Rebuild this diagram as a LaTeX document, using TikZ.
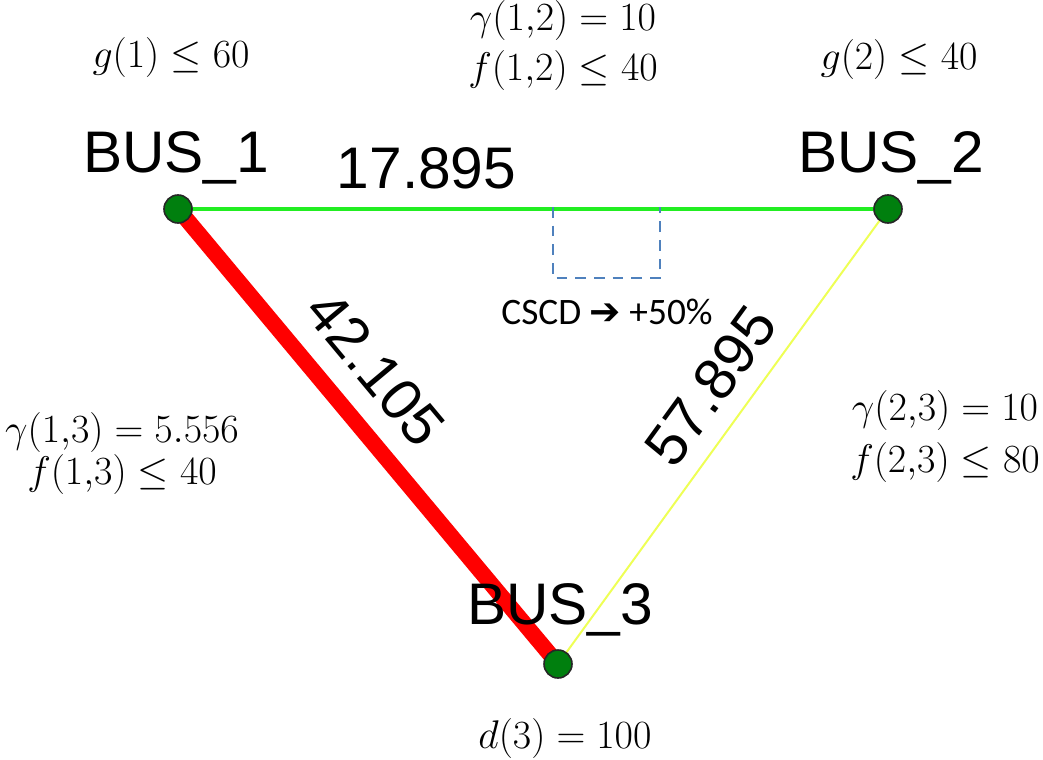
\RequirePackage{fix-cm}
\documentclass[tikz,border=0pt]{standalone}
\usepackage{fontspec}
\setmainfont{Liberation Sans}
\newfontfamily\calfont{Carlito}
\newfontfamily\symfont{DejaVu Sans}
\usetikzlibrary{backgrounds}
\usepackage{xcolor}
\usepackage{amsmath}
\usepackage{amssymb}
\definecolor{busgreen}{HTML}{007F0E}
\definecolor{linegreen}{HTML}{22EE22}
\definecolor{linered}{HTML}{FF0000}
\definecolor{lineyellow}{HTML}{EEFF55}
\definecolor{boxblue}{HTML}{4F81BD}
\tikzset{
  bus/.style={circle,draw=black!85,line width=1.2pt,fill=busgreen,
              minimum size=21pt,inner sep=0pt},
  buslbl/.style={font=\fontsize{44}{44}\selectfont,inner sep=0pt},
  flowlbl/.style={font=\fontsize{44}{44}\selectfont,text=black,sloped,above},
  mlbl/.style={font=\fontsize{30}{37.5}\selectfont,align=center,inner sep=0pt},
  cscd/.style={draw=boxblue,line width=1.5pt,dash pattern=on 8pt off 6pt},
}
\begin{document}
\begin{tikzpicture}[x=0.75pt,y=-0.75pt]
  \useasboundingbox (0,0) rectangle (1043,760);
  % buses
  \node[bus] (b1) at (178,209) {};
  \node[bus] (b2) at (888,209) {};
  \node[bus] (b3) at (558,664) {};
  \node[buslbl] (b1lbl) at (176,158) {BUS\_1};
  \node[buslbl] (b2lbl) at (891,158) {BUS\_2};
  \node[buslbl] (b3lbl) at (560,610) {BUS\_3};
  % lines with flows
  \begin{scope}[on background layer]
    \draw[linegreen,line width=3pt] (b1.center) --
      node[flowlbl,pos=0.35,above=10pt] (f12) {17.895} (b2.center);
    \draw[linered,line width=12pt] (b1.center) --
      node[flowlbl,pos=0.42,above=12pt] (f13) {42.105} (b3.center);
    \draw[lineyellow,line width=1.5pt] (b2.center) --
      node[flowlbl,pos=0.44,above=10pt] (f23) {57.895} (b3.center);
  \end{scope}
  % congestion box
  \coordinate (boxtl) at (553,207);
  \coordinate (boxbr) at (660,278);
  \draw[cscd] (boxtl) |- (boxbr) -- (boxbr |- boxtl);
  \node[font=\calfont\fontsize{28}{28}\selectfont] (cscdlbl) at (607,312)
    {CSCD {\symfont ➔} +50\%};
  % limits and costs
  \node[mlbl] (g1) at (171,58) {$g(1)\le 60$};
  \node[mlbl] (c12) at (563,46) {$\gamma(1{,}2)=10$\\$f(1{,}2)\le 40$};
  \node[mlbl] (g2) at (899,60) {$g(2)\le 40$};
  \node[mlbl,font=\fontsize{30}{31.5}\selectfont] (c13) at (122,453)
    {$\gamma(1{,}3)=5.556$\\$f(1{,}3)\le 40$};
  \node[mlbl,font=\fontsize{30}{39}\selectfont] (c23) at (945,436)
    {$\gamma(2{,}3)=10$\\$f(2{,}3)\le 80$};
  \node[mlbl] (d3) at (565,738) {$d(3)=100$};
\end{tikzpicture}
\end{document}
